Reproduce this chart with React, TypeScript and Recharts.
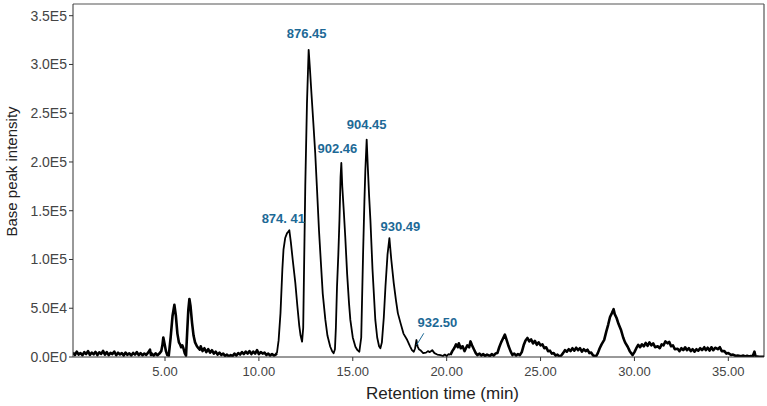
import React from 'react';
import { LineChart, Line, XAxis, YAxis, ReferenceDot, ReferenceLine } from 'recharts';

// Base peak chromatogram, [retention time (min), intensity (x1000)]
const earlyRegion: number[][] = [
  [0.1, 4.5], [0.2, 2.0], [0.3, 5.5], [0.4, 2.5], [0.5, 4.0], [0.6, 1.8], [0.7, 5.0], [0.8, 3.0],
  [0.9, 6.0], [1.0, 2.2], [1.1, 4.5], [1.2, 2.8], [1.3, 5.2], [1.4, 2.0], [1.5, 4.8], [1.6, 3.2],
  [1.7, 6.2], [1.8, 2.4], [1.9, 5.0], [2.0, 2.0], [2.1, 4.2], [2.2, 3.0], [2.3, 5.5], [2.4, 1.8],
  [2.5, 4.4], [2.6, 2.6], [2.7, 4.0], [2.8, 1.5], [2.9, 4.6], [3.0, 2.2], [3.1, 3.8], [3.2, 1.6],
  [3.3, 4.2], [3.4, 2.4], [3.5, 5.0], [3.6, 2.0], [3.7, 4.0], [3.8, 1.8], [3.9, 3.6], [4.0, 2.2],
  [4.1, 4.5], [4.2, 7.5], [4.25, 2.0], [4.3, 3.5], [4.4, 1.5], [4.5, 3.8], [4.6, 1.8], [4.7, 3.5],
  [4.8, 6.0], [4.86, 12], [4.91, 20], [4.98, 13], [5.05, 6], [5.12, 2.0], [5.2, 1.5], [5.3, 20],
  [5.4, 42], [5.5, 53.5], [5.58, 42], [5.66, 24], [5.74, 15], [5.8, 13], [5.86, 10], [5.92, 12],
  [5.98, 9], [6.05, 4], [6.12, 1.5], [6.18, 25], [6.24, 48], [6.3, 59.5], [6.36, 52], [6.44, 35],
  [6.52, 22], [6.6, 15], [6.7, 11], [6.78, 9], [6.85, 7.5], [6.9, 11], [7.0, 6], [7.1, 9],
  [7.2, 5], [7.3, 8], [7.4, 4.5], [7.5, 7], [7.6, 3.5], [7.7, 5.5], [7.8, 2.5], [7.9, 4.5],
  [8.0, 2.0], [8.1, 3.5], [8.2, 1.0], [8.3, 2.5], [8.4, 0.5], [8.5, 2.0], [8.6, 1.0], [8.7, 3.5],
  [8.8, 1.5], [8.9, 4.0], [9.0, 2.5], [9.1, 5.0], [9.2, 3.0], [9.3, 5.5], [9.4, 3.5], [9.5, 6.0],
  [9.6, 3.0], [9.7, 5.5], [9.8, 3.5], [9.9, 7.0], [10.0, 3.0], [10.1, 5.0], [10.2, 3.5], [10.3, 4.5],
  [10.4, 2.0], [10.5, 3.5], [10.6, 1.5], [10.7, 3.0], [10.8, 1.5], [10.9, 2.5], [10.96, 4],
];

const lipidCluster: number[][] = [
  [10.96, 4], [11.05, 17], [11.15, 45], [11.25, 90], [11.31, 110], [11.4, 122], [11.5, 127],
  [11.55, 128], [11.62, 130], [11.7, 118], [11.8, 100], [11.94, 76], [12.05, 52], [12.15, 32],
  [12.22, 22], [12.3, 15.7], [12.36, 30], [12.42, 110], [12.47, 175], [12.56, 260], [12.65, 315],
  [12.72, 295], [12.8, 270], [12.9, 240], [13.0, 209], [13.1, 170], [13.2, 130], [13.27, 107],
  [13.4, 65], [13.54, 38], [13.65, 22], [13.8, 10.5], [13.9, 6], [13.98, 3.8], [14.05, 8],
  [14.1, 30], [14.16, 72], [14.23, 105], [14.29, 140], [14.35, 185], [14.39, 199], [14.44, 175],
  [14.52, 150], [14.6, 123], [14.7, 85], [14.8, 55], [14.87, 38], [15.0, 20], [15.14, 10.5],
  [15.25, 7], [15.35, 5.4], [15.45, 20], [15.55, 107], [15.62, 160], [15.67, 192], [15.74, 223],
  [15.8, 195], [15.87, 165], [15.94, 140], [16.05, 90], [16.2, 38], [16.3, 20], [16.4, 11],
  [16.47, 8.9], [16.55, 15], [16.65, 40], [16.74, 72], [16.85, 105], [16.95, 122], [17.05, 100],
  [17.18, 76], [17.3, 58], [17.4, 45], [17.54, 35], [17.7, 24], [17.9, 17.4], [18.05, 11],
  [18.15, 7], [18.25, 5.4], [18.32, 9], [18.39, 17.4], [18.45, 11], [18.52, 8], [18.6, 7],
  [18.75, 4], [18.9, 4.5], [19.0, 6], [19.1, 5], [19.23, 7], [19.35, 4], [19.5, 2.5], [19.67, 2],
  [19.8, 1], [19.9, 2.5], [20.0, 1.0], [20.1, 3], [20.2, 2],
];

const lateRegion: number[][] = [
  [20.2, 2], [20.3, 6], [20.4, 9], [20.5, 13], [20.6, 10], [20.65, 14], [20.75, 9], [20.85, 11],
  [20.95, 6], [21.0, 8], [21.1, 12], [21.2, 10], [21.27, 16], [21.35, 12], [21.45, 8], [21.55, 4],
  [21.63, 2], [21.75, 3.5], [21.85, 1.5], [21.95, 3], [22.05, 1.0], [22.15, 2.5], [22.3, 1.0],
  [22.4, 3], [22.5, 1.5], [22.6, 3.5], [22.7, 4], [22.8, 10], [22.9, 15], [23.0, 19], [23.1, 23],
  [23.2, 17], [23.3, 11], [23.4, 6], [23.5, 2], [23.6, 3.5], [23.7, 1.5], [23.8, 3], [23.9, 2],
  [24.0, 5], [24.1, 12], [24.2, 17], [24.3, 19.5], [24.4, 16], [24.5, 18], [24.6, 14], [24.7, 16.5],
  [24.8, 12.5], [24.9, 15], [25.0, 12], [25.1, 13], [25.2, 9], [25.3, 10], [25.4, 6], [25.5, 6.5],
  [25.6, 3.5], [25.7, 4], [25.8, 1.5], [25.9, 2.5], [26.0, 0.5], [26.1, 1.5], [26.2, 4], [26.3, 7],
  [26.4, 5.5], [26.5, 8], [26.6, 6], [26.7, 9], [26.8, 6.5], [26.9, 9.5], [27.0, 7], [27.1, 9],
  [27.2, 5.5], [27.3, 8], [27.4, 6], [27.5, 7.5], [27.6, 4], [27.7, 4.5], [27.8, 1.5], [27.9, 1.0],
  [27.95, 0.5], [28.05, 4], [28.15, 9], [28.25, 13], [28.39, 17.5], [28.5, 26], [28.6, 33],
  [28.7, 41], [28.8, 45], [28.89, 49], [28.95, 44], [29.05, 40], [29.15, 34], [29.28, 28],
  [29.4, 20], [29.5, 15], [29.64, 10.5], [29.75, 6], [29.9, 2], [30.0, 5], [30.1, 9], [30.2, 12.5],
  [30.3, 10], [30.4, 13], [30.5, 11], [30.6, 14.5], [30.7, 11.5], [30.8, 15], [30.9, 12], [31.0, 14],
  [31.1, 10], [31.24, 11], [31.35, 9], [31.45, 13], [31.55, 12], [31.65, 16], [31.77, 14],
  [31.85, 15.5], [31.95, 11], [32.05, 12], [32.15, 8], [32.3, 8.5], [32.4, 6], [32.5, 9], [32.6, 7],
  [32.7, 10], [32.8, 7], [32.9, 9], [33.0, 6], [33.1, 8], [33.2, 5.5], [33.3, 8], [33.4, 6.5],
  [33.5, 9], [33.6, 7], [33.72, 10], [33.8, 7], [33.9, 9.5], [34.0, 6.5], [34.1, 10], [34.2, 7],
  [34.3, 9.5], [34.44, 8], [34.55, 10], [34.65, 6], [34.79, 6], [34.9, 3.5], [35.0, 4], [35.15, 2],
  [35.25, 2.5], [35.4, 1.0], [35.5, 1.5], [35.68, 0.8], [35.8, 1.5], [35.9, 0.5], [36.0, 1.2],
  [36.1, 0.5], [36.2, 1.0], [36.3, 0.8], [36.39, 5.5], [36.45, 0.8], [36.6, 0.5], [36.8, 0.3],
  [36.9, 0.2],
];

// annotated peaks (m/z of the base peak)
const peakLabels = ['874. 41', '876.45', '902.46', '904.45', '930.49', '932.50'];
const peakRt = [11.62, 12.65, 14.39, 15.74, 16.95, 18.39];
const peakIntensity = [130000, 315000, 199000, 223000, 122000, 17400];

const xTicks = [5, 10, 15, 20, 25, 30, 35];
const yTicks = [0, 50000, 100000, 150000, 200000, 250000, 300000, 350000];
const yTickLabels = ['0.0E0', '5.0E4', '1.0E5', '1.5E5', '2.0E5', '2.5E5', '3.0E5', '3.5E5'];

// noisy stretches are drawn with a heavier stroke than the main cluster
type Row = { rt: number; noisy?: number; cluster?: number };
const trace: Row[] = [
  ...earlyRegion.map(([rt, k]) => ({ rt, noisy: k * 1000 })),
  ...lipidCluster.map(([rt, k]) => ({ rt, cluster: k * 1000 })),
  ...lateRegion.map(([rt, k]) => ({ rt, noisy: k * 1000 })),
];

const X_MIN = 0.1;
const X_MAX = 36.9;
const Y_MAX = 362000;

const LABEL_COLOR = '#1d6996';
const FONT = '"Liberation Sans", Arial, sans-serif';

// label centre offset from the apex, px
const labelOffset: Record<string, [number, number]> = {
  '874. 41': [-6, -12],
  '876.45': [-2, -16],
  '902.46': [-4, -14],
  '904.45': [0, -15],
  '930.49': [11, -12],
  '932.50': [21, -18],
};

const PeakTag = ({ cx, cy, text }: { cx?: number; cy?: number; text: string }) => {
  if (cx == null || cy == null) return null;
  const [dx, dy] = labelOffset[text];
  return (
    <text
      x={cx + dx}
      y={cy + dy}
      dy="0.35em"
      textAnchor="middle"
      fill={LABEL_COLOR}
      fontFamily={FONT}
      fontWeight="bold"
      fontSize={13}
    >
      {text}
    </text>
  );
};

export default function App() {
  return (
    <div style={{ position: 'absolute', left: 0, top: 0, background: '#fff' }}>
      <LineChart
        width={767}
        height={406}
        data={trace}
        margin={{ top: 4, right: 3, left: 0, bottom: 0 }}
      >
        <XAxis
          dataKey="rt"
          type="number"
          domain={[X_MIN, X_MAX]}
          ticks={xTicks}
          tickFormatter={(v: number) => v.toFixed(2)}
          allowDataOverflow
          height={49}
          stroke="#333"
          tickSize={4}
          tickMargin={6}
          tick={{ fill: '#444', fontSize: 13, fontFamily: FONT }}
          label={{
            content: (p: any) => {
              const vb = p.viewBox;
              return (
                <text
                  x={vb.x + vb.width / 2 + 24}
                  y={vb.y + 42}
                  textAnchor="middle"
                  fill="#222"
                  fontFamily={FONT}
                  fontSize={17}
                >
                  Retention time (min)
                </text>
              );
            },
          }}
        />
        <YAxis
          type="number"
          domain={[0, Y_MAX]}
          ticks={yTicks}
          tickFormatter={(v: number) => yTickLabels[yTicks.indexOf(v)]}
          allowDataOverflow
          width={73}
          stroke="#333"
          tickSize={4}
          tickMargin={2}
          tick={{ fill: '#444', fontSize: 14, fontFamily: FONT }}
          label={{
            content: (p: any) => {
              const vb = p.viewBox;
              const cx = vb.x + 12;
              const cy = vb.y + vb.height / 2 - 9;
              return (
                <text
                  x={cx}
                  y={cy}
                  dy="0.35em"
                  transform={`rotate(-90, ${cx}, ${cy})`}
                  textAnchor="middle"
                  fill="#222"
                  fontFamily={FONT}
                  fontSize={15}
                >
                  Base peak intensity
                </text>
              );
            },
          }}
        />
        {/* frame on top and right */}
        <ReferenceLine y={Y_MAX} stroke="#555" strokeWidth={1.2} />
        <ReferenceLine x={X_MAX} stroke="#555" strokeWidth={1.2} />
        <Line
          type="linear"
          dataKey="noisy"
          stroke="#000"
          strokeWidth={2.6}
          strokeLinejoin="round"
          dot={false}
          isAnimationActive={false}
        />
        <Line
          type="linear"
          dataKey="cluster"
          stroke="#000"
          strokeWidth={1.8}
          strokeLinejoin="round"
          dot={false}
          isAnimationActive={false}
        />
        {/* leader for the small 932.50 peak */}
        <ReferenceLine
          segment={[
            { x: 18.4, y: 12300 },
            { x: 18.78, y: 24300 },
          ]}
          stroke={LABEL_COLOR}
          strokeWidth={1}
        />
        {peakLabels.map((name, i) => (
          <ReferenceDot
            key={name}
            x={peakRt[i]}
            y={peakIntensity[i]}
            r={0}
            shape={(p: any) => <PeakTag cx={p.cx} cy={p.cy} text={name} />}
          />
        ))}
      </LineChart>
    </div>
  );
}
